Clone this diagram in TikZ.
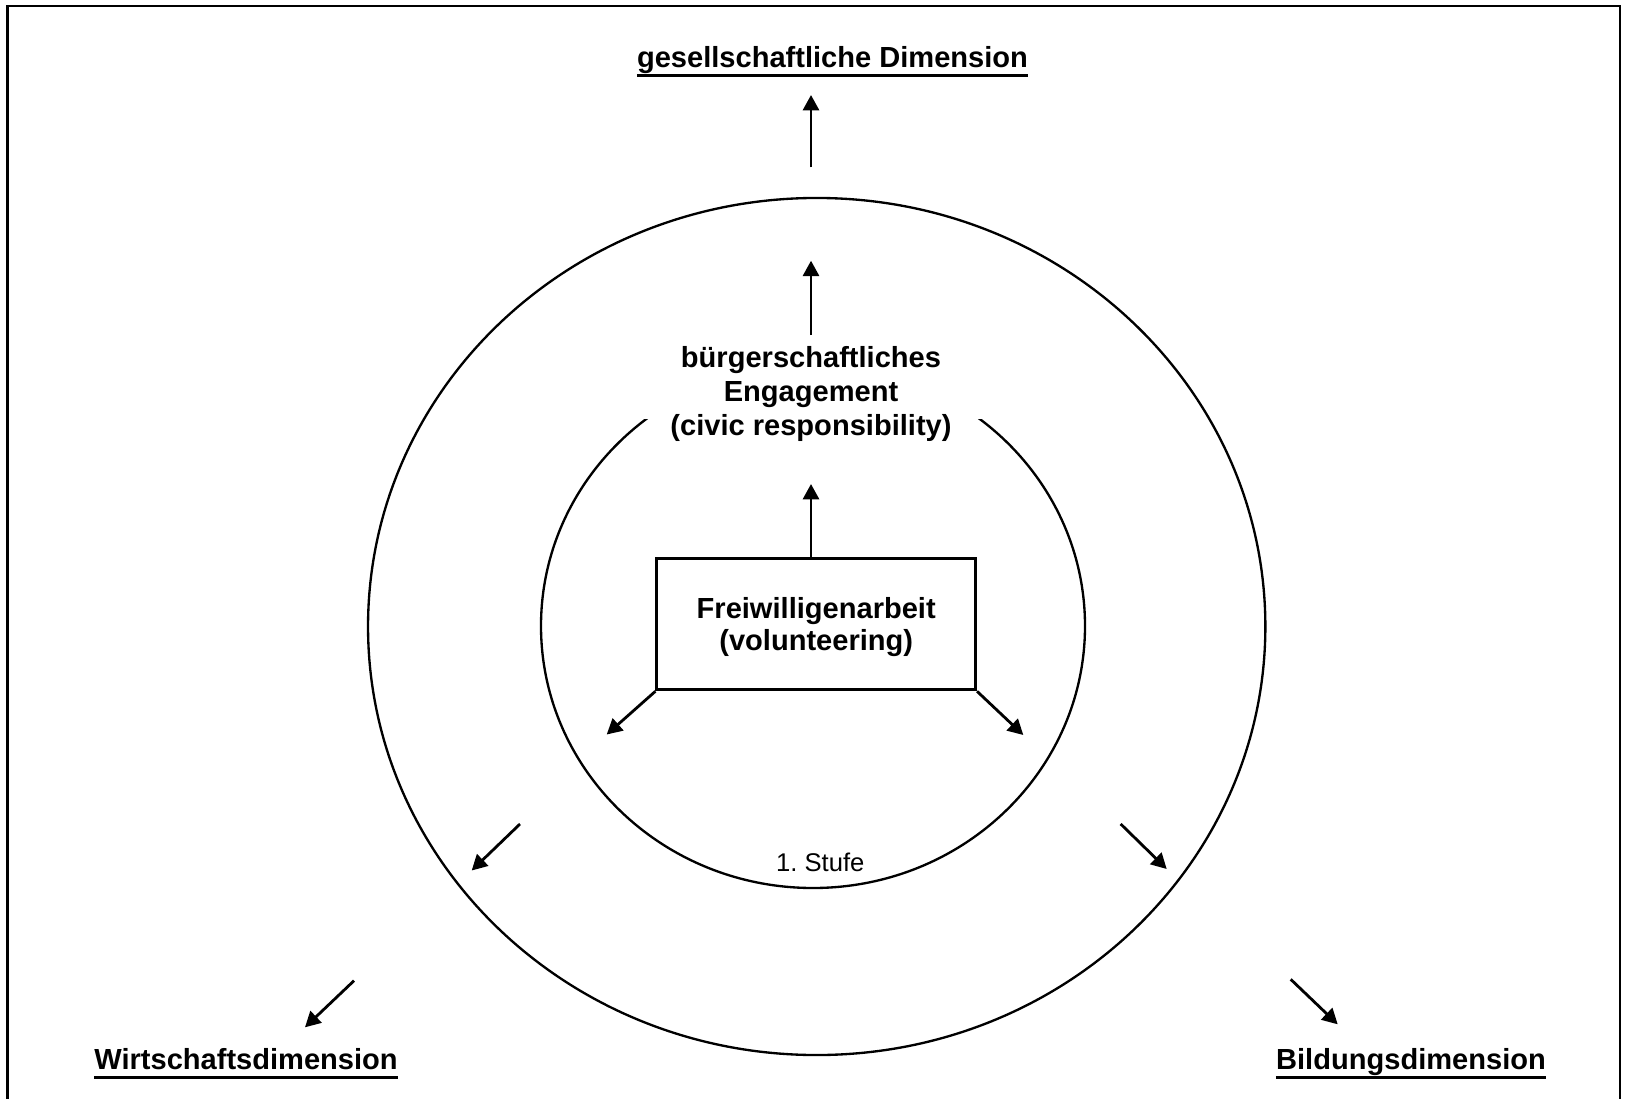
\documentclass[tikz,border=0pt]{standalone}
\usepackage{fontspec}
\setmainfont{Liberation Sans}
\usetikzlibrary{arrows.meta}
\frenchspacing
\begin{document}
\begin{tikzpicture}[x=0.75pt,y=-0.75pt,
  ln/.style={line width=1.75pt},
  arr/.style={line width=2.1pt,-{Triangle[length=11.5pt,width=12pt]}},
  big/.style={font=\fontsize{21.8}{25.5}\selectfont\bfseries,align=center,inner sep=0pt},
  dimlabel/.style={font=\fontsize{21.8}{25.5}\selectfont\bfseries,inner sep=0pt},
  small/.style={font=\fontsize{19.2}{23}\selectfont,inner sep=0pt},
  ul/.style={line width=2.1pt}]
\useasboundingbox (0,0) rectangle (1625,1099);
% frame
\draw[line width=1.8pt] (7.3,1099) -- (7.3,6) -- (1620,6) -- (1620,1099);
% outer ellipse
\draw[ln] (816.7,626.5) ellipse [x radius=336.5pt, y radius=321.4pt];
% inner ellipse with gap at the top
\begin{scope}
\clip (0,419) rectangle (1625,1099);
\draw[ln] (813,626) ellipse [x radius=204pt, y radius=196.5pt];
\end{scope}
% box
\node[draw,line width=2.2pt,minimum width=239pt,minimum height=98.7pt,inner sep=0pt]
  (box) at (816.2,624) {};
\node[big,font=\fontsize{21.8}{24}\selectfont\bfseries] (boxtext) at (816.2,627) {Freiwilligenarbeit\\(volunteering)};
% civic text
\node[big] (civ) at (811,394) {bürgerschaftliches\\Engagement\\(civic responsibility)};
% labels
\node[dimlabel,anchor=base] (ges) at (832.5,68) {gesellschaftliche Dimension};
\node[dimlabel,anchor=base] (wir) at (246,1069) {Wirtschaftsdimension};
\node[dimlabel,anchor=base] (bil) at (1411,1069) {Bildungsdimension};
\draw[ul] ([yshift=-5.6pt]ges.base west) -- ([yshift=-5.6pt]ges.base east);
\draw[ul] ([yshift=-6.3pt]wir.base west) -- ([yshift=-6.3pt]wir.base east);
\draw[ul] ([yshift=-6.3pt]bil.base west) -- ([yshift=-6.3pt]bil.base east);
\node[small] (stufe) at (820.3,862) {1. Stufe};
% coordinates for free arrow ends
\coordinate (a1s) at (811,167.3);  \coordinate (a1e) at (811,95);
\coordinate (a2s) at (811,335);    \coordinate (a2e) at (811,260.7);
\coordinate (a3e) at (811,484);
\coordinate (b1e) at (606.7,734.5);
\coordinate (b2e) at (1023.3,735);
\coordinate (m1s) at (520,824);    \coordinate (m1e) at (471.7,870.5);
\coordinate (m2s) at (1120.7,824); \coordinate (m2e) at (1166.7,869);
\coordinate (o1s) at (354,980.7);  \coordinate (o1e) at (305,1027.3);
\coordinate (o2s) at (1290.7,979.3); \coordinate (o2e) at (1337.7,1024.3);
% arrows
\draw[arr] (a1s) -- (a1e);
\draw[arr] (a2s) -- (a2e);
\draw[arr] (box.north -| a3e) -- (a3e);
\draw[arr] (box.south west) -- (b1e);
\draw[arr] (box.south east) -- (b2e);
\draw[arr] (m1s) -- (m1e);
\draw[arr] (m2s) -- (m2e);
\draw[arr] (o1s) -- (o1e);
\draw[arr] (o2s) -- (o2e);
\end{tikzpicture}
\end{document}
